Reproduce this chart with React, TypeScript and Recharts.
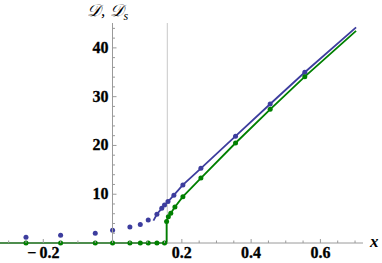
import React from "react";
import {
  ComposedChart,
  Line,
  Scatter,
  XAxis,
  YAxis,
  ReferenceLine,
} from "recharts";

// values
const blueDots = [
  { x: -0.25, y: 1.2 },
  { x: -0.15, y: 1.6 },
  { x: -0.05, y: 2.0 },
  { x: 0, y: 2.6 },
  { x: 0.05, y: 3.3 },
  { x: 0.08, y: 3.8 },
  { x: 0.103, y: 4.7 },
  { x: 0.128, y: 5.9 },
  { x: 0.142, y: 7.1 },
  { x: 0.15, y: 7.8 },
  { x: 0.16, y: 8.5 },
  { x: 0.177, y: 9.8 },
  { x: 0.203, y: 11.9 },
  { x: 0.255, y: 15.3 },
  { x: 0.355, y: 21.9 },
  { x: 0.455, y: 28.5 },
  { x: 0.555, y: 35.0 },
];

const greenDots = [
  { x: -0.25, y: 0 },
  { x: -0.15, y: 0 },
  { x: -0.05, y: 0 },
  { x: 0, y: 0 },
  { x: 0.05, y: 0 },
  { x: 0.08, y: 0 },
  { x: 0.103, y: 0 },
  { x: 0.128, y: 0 },
  { x: 0.15, y: 0 },
  { x: 0.156, y: 4.4 },
  { x: 0.161, y: 5.4 },
  { x: 0.168, y: 6.1 },
  { x: 0.18, y: 7.4 },
  { x: 0.203, y: 9.5 },
  { x: 0.255, y: 13.3 },
  { x: 0.355, y: 20.5 },
  { x: 0.455, y: 27.4 },
  { x: 0.555, y: 34.1 },
];

const blueCurve = [
  { x: 0.118, y: 4.6 },
  { x: 0.128, y: 5.9 },
  { x: 0.142, y: 7.1 },
  { x: 0.15, y: 7.8 },
  { x: 0.16, y: 8.5 },
  { x: 0.177, y: 9.8 },
  { x: 0.203, y: 11.9 },
  { x: 0.255, y: 15.3 },
  { x: 0.355, y: 21.9 },
  { x: 0.455, y: 28.5 },
  { x: 0.555, y: 35.0 },
  { x: 0.703, y: 44.2 },
];

const greenCurve = [
  { x: -0.325, y: 0 },
  { x: 0.156, y: 0 },
  { x: 0.156, y: 4.4 },
  { x: 0.161, y: 5.4 },
  { x: 0.168, y: 6.1 },
  { x: 0.18, y: 7.4 },
  { x: 0.203, y: 9.5 },
  { x: 0.255, y: 13.3 },
  { x: 0.355, y: 20.5 },
  { x: 0.455, y: 27.4 },
  { x: 0.555, y: 34.1 },
  { x: 0.703, y: 43.5 },
];

const CRITICAL_X = 0.158;

const X_TICKS = [
  -0.3, -0.25, -0.2, -0.15, -0.1, -0.05, 0, 0.05, 0.1, 0.15, 0.2, 0.25, 0.3,
  0.35, 0.4, 0.45, 0.5, 0.55, 0.6, 0.65, 0.7,
];
const X_MAJOR = [-0.2, 0, 0.2, 0.4, 0.6];
const X_LABELS: Record<string, string> = {
  "-0.2": "\u2212\u20090.2",
  "0.2": "0.2",
  "0.4": "0.4",
  "0.6": "0.6",
};

const Y_TICKS = [
  0, 2, 4, 6, 8, 10, 12, 14, 16, 18, 20, 22, 24, 26, 28, 30, 32, 34, 36, 38,
  40, 42, 44,
];
const Y_LABELS = [10, 20, 30, 40];

const X_DOMAIN = [-0.325, 0.723];
const Y_DOMAIN = [0, 45.1];

const BLUE = "#3d3d9e";
const GREEN = "#008000";
const AXIS = "#9a9a9a";
const FONT = "Liberation Serif, Times New Roman, serif";

// Mathematica's bold Times is a bit heavier, hence the thin stroke
const labelStyle: React.CSSProperties = {
  fontFamily: FONT,
  fontWeight: 700,
  fontSize: 16,
};

const XTick = (props: any) => {
  const { x, y, payload } = props;
  const v = payload.value;
  const major = X_MAJOR.some((m) => Math.abs(m - v) < 1e-6);
  const label = X_LABELS[String(v)];
  return (
    <g>
      <line x1={x} x2={x} y1={y} y2={y - (major ? 4 : 2.5)} stroke={AXIS} />
      {label && (
        <text
          x={x}
          y={y + 15}
          textAnchor="middle"
          fill="#000"
          stroke="#000"
          strokeWidth={0.3}
          style={labelStyle}
        >
          {label}
        </text>
      )}
    </g>
  );
};

const YTick = (props: any) => {
  const { x, y, payload } = props;
  const v = payload.value;
  const major = v % 10 === 0;
  return (
    <g>
      {v > 0 && (
        <line x1={x} x2={x + (major ? 4 : 2.5)} y1={y} y2={y} stroke={AXIS} />
      )}
      {Y_LABELS.includes(v) && (
        <text
          x={x - 4}
          y={y + 5}
          textAnchor="end"
          fill="#000"
          stroke="#000"
          strokeWidth={0.3}
          style={labelStyle}
        >
          {v}
        </text>
      )}
    </g>
  );
};

const dot = (color: string) => (p: any) =>
  <circle cx={p.cx} cy={p.cy} r={2.5} fill={color} />;

export default function App() {
  return (
    <div
      style={{
        position: "fixed",
        left: 0,
        top: 0,
        width: 382,
        height: 263,
        background: "#fff",
      }}
    >
      <div style={{ position: "absolute", left: 0, top: 0 }}>
        <ComposedChart
          width={382}
          height={263}
          margin={{ top: 23, right: 19, bottom: 0, left: 0 }}
        >
          <XAxis
            type="number"
            dataKey="x"
            domain={X_DOMAIN}
            ticks={X_TICKS}
            interval={0}
            height={20}
            tickSize={0}
            tickMargin={0}
            tickLine={false}
            axisLine={{ stroke: AXIS }}
            tick={<XTick />}
          />
          <YAxis type="number" dataKey="y" domain={Y_DOMAIN} hide />
          <ReferenceLine x={CRITICAL_X} stroke="#c8c8c8" />
          <Line
            data={blueCurve}
            dataKey="y"
            type="linear"
            stroke={BLUE}
            strokeWidth={1.8}
            dot={false}
            isAnimationActive={false}
          />
          <Line
            data={greenCurve}
            dataKey="y"
            type="linear"
            stroke={GREEN}
            strokeWidth={1.8}
            dot={false}
            isAnimationActive={false}
          />
          <Scatter
            data={blueDots}
            dataKey="y"
            shape={dot(BLUE)}
            isAnimationActive={false}
          />
          <Scatter
            data={greenDots}
            dataKey="y"
            shape={dot(GREEN)}
            isAnimationActive={false}
          />
        </ComposedChart>
      </div>
      {/* y axis sits at x = 0, drawn by a second chart lined up on top */}
      <div style={{ position: "absolute", left: 0, top: 0, pointerEvents: "none" }}>
        <ComposedChart
          width={382}
          height={263}
          data={blueDots}
          margin={{ top: 23, right: 19, bottom: 20, left: 0 }}
        >
          <XAxis type="number" dataKey="x" domain={[0, 0.723]} hide />
          <YAxis
            type="number"
            dataKey="y"
            domain={Y_DOMAIN}
            ticks={Y_TICKS}
            interval={0}
            width={112.5}
            tickSize={0}
            tickMargin={0}
            tickLine={false}
            axisLine={{ stroke: AXIS }}
            tick={<YTick />}
          />
        </ComposedChart>
      </div>
      <div
        style={{
          position: "absolute",
          left: 87,
          top: 1,
          fontFamily: FONT,
          fontStyle: "italic",
          fontSize: 17,
          whiteSpace: "nowrap",
          lineHeight: "20px",
        }}
      >
        𝒟, 𝒟<sub style={{ fontSize: 12 }}>s</sub>
      </div>
      <div
        style={{
          position: "absolute",
          left: 370,
          top: 233,
          fontFamily: FONT,
          fontStyle: "italic",
          fontWeight: 700,
          fontSize: 17,
          lineHeight: "18px",
        }}
      >
        x
      </div>
    </div>
  );
}
